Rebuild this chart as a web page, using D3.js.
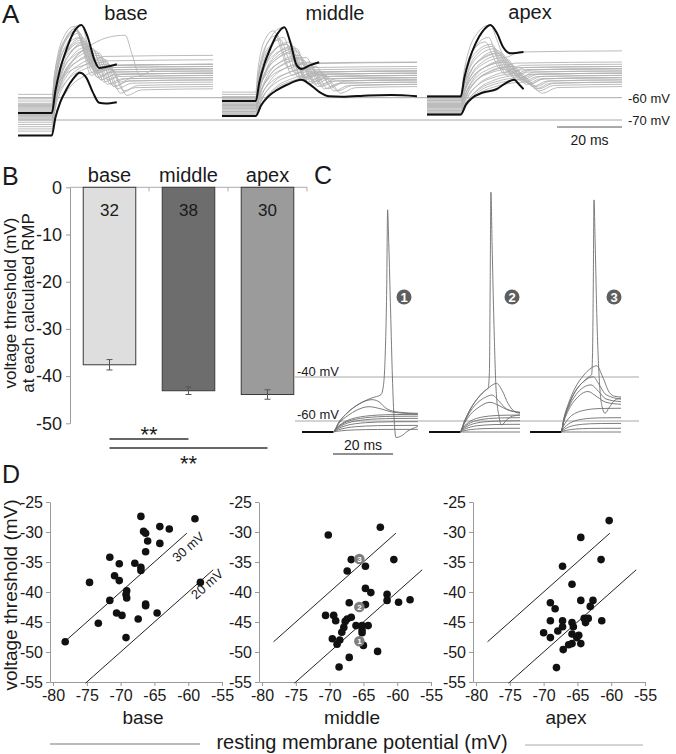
<!DOCTYPE html>
<html>
<head>
<meta charset="utf-8">
<script src="https://cdn.jsdelivr.net/npm/d3@7"></script>
<style>
  body { margin: 0; background: #fff; }
  svg { font-family: "Liberation Sans", Arial, Helvetica, sans-serif; display: block; }
</style>
</head>
<body>
<svg id="fig" width="676" height="754"></svg>
<script>
// ---------- DATA ----------
var regions = ['base', 'middle', 'apex'];

// A: gray traces, one entry per cell (RMP, hump peak, peak time, plateau), mV / ms
var baseRmp   = [-66.9, -58.5, -60.5, -61.5, -62.5, -63, -63.5, -64, -64.5, -65, -65.5, -66, -66.5, -67, -67.5, -68, -68.5, -69, -69.5, -70, -71, -72, -73, -74, -75];
var basePeakV = [-27.4, -44, -30, -36, -28, -41, -33, -38, -30, -45, -35, -32, -39, -29, -42, -36, -31, -40, -34, -43, -37, -33, -47, -38, -35];
var basePeakT = [19.5, 27, 18, 21, 17.5, 25, 19, 23, 18.5, 28, 20, 33, 24, 18, 26, 21, 19, 25, 20, 27, 22, 20, 29, 23, 21];
var basePlat  = [-45, -50, -43, -47, -41, -52, -45, -49, -46, -54, -48, -47, -51, -47, -53, -49, -45, -52, -48, -55, -50, -46, -56, -51, -49];

var midRmp   = [-61.5, -57.5, -58.5, -59.5, -60, -60.5, -61, -62, -62.5, -63, -63.5, -64, -64.5, -65, -65.5, -66, -66.5, -67, -67.5, -68, -68.5, -63.2, -64.8, -66.2];
var midPeakV = [-28.4, -30, -34, -38, -32, -42, -36, -45, -40, -33, -47, -39, -43, -35, -48, -41, -37, -44, -50, -46, -49, -38, -42, -36];
var midPeakT = [19.2, 16, 18, 21, 17, 24, 20, 26, 22, 19, 28, 23, 25, 21, 30, 24, 22, 27, 32, 29, 31, 23, 26, 20];
var midPlat  = [-44.2, -44, -46, -48, -47, -50, -49, -52, -51, -48, -53, -50, -52, -49, -54, -51, -50, -53, -55, -52, -54, -49, -51, -48];

var apexRmp   = [-59.5, -59, -60, -60.5, -61, -61.5, -62, -62.5, -63, -63.5, -64, -64.5, -65, -65.5, -66, -66.5, -67, -67.5, -68, -61.2, -62.8, -64.2, -65.8, -67.2];
var apexPeakV = [-27.4, -36, -40, -35, -44, -38, -42, -47, -37, -45, -41, -49, -39, -46, -43, -51, -48, -53, -50, -40, -44, -33, -46, -52];
var apexPeakT = [19.5, 20, 23, 18, 25, 21, 24, 27, 20, 26, 23, 29, 22, 27, 25, 30, 28, 31, 29, 22, 24, 19, 26, 30];
var apexPlat  = [-39, -45, -47, -44, -49, -46, -48, -51, -47, -50, -49, -52, -48, -51, -50, -53, -52, -55, -53, -47, -49, -46, -51, -54];

// A: highlighted (black) traces, [ms, mV]
var baseBlackHi = [[0, -66.9], [10.4, -66.9], [11.5, -57], [13, -47], [15, -38], [17, -31], [19.5, -27.4], [21.5, -33], [23.5, -43], [25, -46.7], [27, -46.2], [30.4, -45]];
var baseBlackLo = [[0, -77], [10.4, -77], [11.5, -69], [13, -62], [15, -56], [17, -51.5], [19, -48.8], [21, -51], [23, -57.5], [25, -62.3], [27, -62.6], [30.4, -62]];
var midBlackHi  = [[0, -61.5], [10.4, -61.5], [11.5, -53], [13, -45], [15, -37.5], [17, -31.5], [19.2, -28.4], [21, -35], [23, -45.5], [24.5, -47.1], [27, -45.5], [29.9, -44.1]];
var midBlackLo  = [[0, -68.2], [10.4, -68.2], [12, -63.5], [14.2, -59.5], [17, -56.5], [20, -54.2], [24.4, -52], [27, -54], [30, -57.5], [33, -59.4], [37, -59.6], [45, -59], [52, -58.8], [60, -59.3]];
var apexBlackHi = [[0, -59.5], [10.4, -59.5], [11.5, -51], [13, -43], [15, -35.5], [17, -30.5], [19.5, -27.4], [21.5, -31], [23.5, -37.5], [25.7, -40.1], [29.7, -39.5]];
var apexBlackLo = [[0, -67.5], [10.4, -67.5], [12, -63], [14, -60], [17, -57.8], [21.5, -56.1], [24.5, -53.2], [26.8, -52], [28.3, -54], [29.7, -56.2]];

// A: shape of the rising phase (fraction of time to peak -> fraction of amplitude)
var aOnset = 10.4, aEnd = 60;
var aRiseS = [0.1, 0.3, 0.55, 0.8, 1];
var aRiseF = [0.32, 0.68, 0.88, 0.98, 1];

// B: threshold relative to calculated RMP
var barMean = [-37.6, -43.1, -43.9];
var barSem  = [1.1, 0.8, 1.0];
var barN    = [32, 38, 30];
var barTicks = [0, -10, -20, -30, -40, -50];

// C: current-step families, [ms after step, mV]
var cRest = -65, cPre = -10.3;
var cRiseT = [0.8, 2, 3.5, 5.5, 8, 11, 15];
var cRiseF = [0.22, 0.45, 0.65, 0.8, 0.9, 0.96, 0.99];
var cSub1 = [-63.8, -62, -60.3, -58.8, -57.8, -57];
var cSub2 = [-65, -63.3, -61.5, -59.9, -58.5, -57.3];
var cSub3 = [-65, -63.3, -61.1, -58.5, -54.2];
var cHump1 = [
  [[0, -65], [2, -61], [5, -57.5], [8, -55], [12, -53.5], [16, -54.5], [20, -56], [28.3, -56.8]],
  [[0, -65], [2, -60.5], [5, -56], [9, -52], [13, -50.3], [15, -51], [18, -54.5], [22, -56], [28.3, -56.5]]
];
var cHump2 = [
  [[0, -65], [1.5, -61], [3.5, -57], [6, -54], [10, -51.5], [13, -53], [16, -55], [20, -56]],
  [[0, -65], [1.5, -60.5], [3.5, -55.5], [6, -51.5], [8.5, -49.2], [10.7, -48.2], [13, -51], [15.5, -54.5], [20, -56.2]],
  [[0, -65], [1.5, -60], [3.5, -54.5], [6, -49.5], [9, -45.5], [12.2, -42.9], [14, -46], [16, -52], [18, -55.5], [20, -56.5]]
];
var cHump3 = [
  [[0, -65], [1, -60], [2.5, -55], [5, -50], [9, -46.6], [12, -49], [15, -51.5], [20, -52.4]],
  [[0, -65], [1, -59.5], [2.5, -54], [5, -48], [10, -43.6], [12.5, -46.5], [15, -50], [20, -51.2]],
  [[0, -65], [1, -59], [2.5, -53], [4.7, -46.7], [7.4, -42.2], [10.8, -39.9], [12.5, -43], [15, -48], [20, -50.1]],
  [[0, -65], [1, -58.5], [2.5, -52], [4.7, -45], [7.4, -39.5], [10, -36], [11.9, -34.9], [13.9, -40], [16.1, -47], [18, -48.8], [20, -49.1]]
];
var cSpike1 = [[0, -65], [2, -60.5], [5, -56], [9, -52], [13, -49.5], [16, -48], [16.8, -44], [17.4, -30], [17.9, 0], [18.2, 36], [18.6, 20], [19.2, -10], [19.8, -40], [20.4, -60], [21, -67.5], [22.5, -67], [25, -64.5], [28.3, -62.5]];
var cSpike2 = [[0, -65], [1.5, -60], [3.5, -54.5], [6, -49.5], [8.5, -46], [9.4, -45], [9.8, -38], [10.05, 0], [10.3, 44], [10.7, 20], [11.3, -15], [12, -45], [13, -58], [13.9, -61.8], [15.5, -59.5], [17.5, -57.8], [20, -57.3]];
var cSpike3 = [[0, -65], [1, -59], [2.5, -53], [4.7, -46.7], [7.4, -42.2], [9.6, -39.6], [10.2, -39], [10.5, -30], [10.75, 0], [11, 40.5], [11.4, 20], [12, -15], [12.8, -42], [13.8, -54], [14.7, -56.5], [16, -54], [18, -50.5], [20, -49.6]];
var cEnd = [28.3, 20, 20];
var cStretch = [1.35, 1, 0.9];

// D: resting membrane potential (x) vs voltage threshold (y), mV
var baseScatter = [[-78.2, -48.3], [-74.6, -38.4], [-73.3, -45.2], [-71.6, -34.2], [-71.6, -41.4], [-70.9, -37.3], [-70.2, -35.3], [-70.2, -38.1], [-70.6, -43.5], [-69.8, -43.9], [-69.1, -39.8], [-69.2, -40.4], [-69.1, -41.0], [-69.2, -47.6], [-67.9, -35.2], [-67.4, -44.5], [-67.0, -27.4], [-67.0, -35.9], [-67.0, -36.4], [-66.6, -29.9], [-66.3, -30.2], [-66.3, -33.3], [-66.3, -42.0], [-66.3, -42.3], [-66.0, -31.5], [-64.6, -43.5], [-64.2, -29.1], [-64.2, -31.9], [-62.8, -29.5], [-59.0, -27.8], [-58.2, -38.4]];
var midScatter = [[-70.2, -30.5], [-62.5, -29.2], [-66.8, -34.6], [-67.4, -36.5], [-64.7, -35.7], [-60.5, -34.6], [-64.7, -39.4], [-63.9, -40.1], [-61.5, -40.4], [-61.5, -41.4], [-59.8, -41.7], [-58.1, -41.3], [-67.1, -41.8], [-64.7, -42.1], [-70.6, -43.9], [-69.4, -43.9], [-69.1, -44.8], [-67.7, -44.9], [-67.4, -44.5], [-66.8, -44.2], [-67.9, -45.9], [-68.2, -46.7], [-66.1, -45.6], [-65.2, -45.6], [-64.3, -45.6], [-65.2, -46.3], [-65.2, -46.8], [-69.6, -47.8], [-68.5, -48.0], [-68.9, -48.7], [-65.0, -48.9], [-62.9, -49.9], [-67.1, -50.9], [-68.6, -52.5]];
var midMarked = [[-65.6, -48.2, '1'], [-65.6, -42.5, '2'], [-65.6, -34.5, '3']];
var apexScatter = [[-60.3, -28.1], [-64.5, -30.9], [-61.5, -34.6], [-67.2, -35.7], [-65.8, -38.7], [-69.0, -41.8], [-68.3, -42.8], [-64.5, -41.4], [-62.7, -41.4], [-63.1, -42.4], [-69.0, -44.8], [-67.2, -44.8], [-65.8, -45.1], [-64.0, -44.4], [-63.4, -44.4], [-63.8, -45.1], [-61.4, -44.8], [-67.2, -45.8], [-65.6, -45.8], [-67.9, -46.5], [-70.0, -46.8], [-69.0, -47.6], [-65.8, -47.0], [-64.8, -47.2], [-65.1, -47.6], [-66.3, -48.8], [-65.8, -48.6], [-64.5, -48.6], [-67.1, -49.6], [-68.1, -52.6]];
var refOffsets = [30, 20];
var refRanges = [[-78.3, -60.2], [-75.2, -56.3]];
var dXTicks = [-80, -75, -70, -65, -60, -55];
var dYTicks = [-25, -30, -35, -40, -45, -50, -55];

// ---------- DRAWING ----------
var svg = d3.select('#fig');
var ink = '#1a1a1a';

function label(g, x, y, s, size, anchor) {
  return g.append('text').attr('x', x).attr('y', y).text(s)
    .attr('font-size', size).attr('text-anchor', anchor || 'start').attr('fill', ink);
}
function styleAxis(g, size) {
  g.attr('font-size', size).attr('font-family', null);
  g.select('.domain').attr('stroke', '#9a9a9a');
  g.selectAll('.tick line').attr('stroke', '#9a9a9a');
  g.selectAll('.tick text').attr('fill', ink);
}
function apPoints(rmp, pv, pt, pl) {
  var d = pt - aOnset, a = pv - rmp, dip = pl - 3;
  var pts = [[0, rmp], [aOnset, rmp]];
  aRiseS.forEach(function(s, k) { pts.push([aOnset + s * d, rmp + aRiseF[k] * a]); });
  pts.push([pt + 2, pv - 0.45 * (pv - dip)], [pt + 4.5, dip], [pt + 9, pl - 0.5], [aEnd, pl]);
  return pts;
}

// ===== A =====
var gA = svg.append('g');
var aX0 = [18, 222, 427];
var aT = d3.scaleLinear().domain([0, 60]).range([0, 195]);
var aV = d3.scaleLinear().domain([-70, -60]).range([120, 97.7]);
var aGray = [[baseRmp, basePeakV, basePeakT, basePlat], [midRmp, midPeakV, midPeakT, midPlat], [apexRmp, apexPeakV, apexPeakT, apexPlat]];
var aBlack = [[baseBlackHi, baseBlackLo], [midBlackHi, midBlackLo], [apexBlackHi, apexBlackLo]];

[-60, -70].forEach(function(v) {
  gA.append('line').attr('x1', 18).attr('x2', 622).attr('y1', aV(v)).attr('y2', aV(v))
    .attr('stroke', '#a8a8a8').attr('stroke-width', 1);
});
regions.forEach(function(r, gi) {
  var line = d3.line().curve(d3.curveMonotoneX)
    .x(function(d) { return aX0[gi] + aT(d[0]); })
    .y(function(d) { return aV(d[1]); });
  var cols = aGray[gi];
  var traces = cols[0].map(function(v, i) { return apPoints(v, cols[1][i], cols[2][i], cols[3][i]); });
  gA.selectAll(null).data(traces).enter().append('path')
    .attr('d', line).attr('fill', 'none').attr('stroke', '#b3b3b3').attr('stroke-width', 0.9);
  gA.selectAll(null).data(aBlack[gi]).enter().append('path')
    .attr('d', line).attr('fill', 'none').attr('stroke', '#111').attr('stroke-width', 2);
});
label(gA, 126, 20, 'base', 20, 'middle');
label(gA, 335, 20, 'middle', 20, 'middle');
label(gA, 530, 19, 'apex', 20, 'middle');
label(gA, 2, 23, 'A', 26);
label(gA, 628, 103, '-60 mV', 13);
label(gA, 628, 125, '-70 mV', 13);
gA.append('line').attr('x1', aX0[2] + aT(40)).attr('x2', aX0[2] + aT(60)).attr('y1', 127).attr('y2', 127)
  .attr('stroke', '#555').attr('stroke-width', 1);
label(gA, aX0[2] + aT(50), 145, '20 ms', 14, 'middle');

// ===== B =====
var gB = svg.append('g');
var xB = d3.scaleBand().domain(regions).range([70, 307]).paddingInner(0.335).paddingOuter(0.1675);
var yB = d3.scaleLinear().domain([-50, 0]).range([423.3, 187.3]);
var barFill = ['#dedede', '#6d6d6d', '#9b9b9b'];

gB.append('g').attr('transform', 'translate(70,0)')
  .call(d3.axisLeft(yB).tickValues(barTicks).tickSize(4).tickSizeOuter(0).tickPadding(4).tickFormat(String))
  .call(styleAxis, 18);
gB.append('line').attr('x1', 70).attr('x2', 307).attr('y1', yB(0)).attr('y2', yB(0)).attr('stroke', '#aaa');
regions.forEach(function(r) {
  var bx = xB(r) + xB.bandwidth() + xB.step() * xB.paddingInner() / 2;
  gB.append('line').attr('x1', bx).attr('x2', bx).attr('y1', yB(0)).attr('y2', yB(0) + 4).attr('stroke', '#aaa');
});
gB.selectAll('rect.bar').data(regions).enter().append('rect')
  .attr('class', 'bar')
  .attr('x', function(d) { return xB(d); })
  .attr('y', yB(0))
  .attr('width', xB.bandwidth())
  .attr('height', function(d, i) { return yB(barMean[i]) - yB(0); })
  .attr('fill', function(d, i) { return barFill[i]; })
  .attr('stroke', '#3a3a3a').attr('stroke-width', 1);
regions.forEach(function(r, i) {
  var cx = xB(r) + xB.bandwidth() / 2;
  var y1 = yB(barMean[i] - barSem[i]), y2 = yB(barMean[i] + barSem[i]);
  gB.append('line').attr('x1', cx).attr('x2', cx).attr('y1', y1).attr('y2', y2).attr('stroke', '#555');
  [y1, y2].forEach(function(yy) {
    gB.append('line').attr('x1', cx - 3).attr('x2', cx + 3).attr('y1', yy).attr('y2', yy).attr('stroke', '#555');
  });
  label(gB, cx, 216, String(barN[i]), 17, 'middle');
  label(gB, cx, 182, r, 20, 'middle');
});
var cB = function(r) { return xB(r) + xB.bandwidth() / 2; };
gB.append('line').attr('x1', cB('base')).attr('x2', cB('middle')).attr('y1', 439).attr('y2', 439).attr('stroke', '#333').attr('stroke-width', 1.3);
gB.append('line').attr('x1', cB('base')).attr('x2', cB('apex')).attr('y1', 448).attr('y2', 448).attr('stroke', '#333').attr('stroke-width', 1.3);
label(gB, (cB('base') + cB('middle')) / 2, 442, '**', 22, 'middle');
label(gB, (cB('base') + cB('apex')) / 2, 471, '**', 22, 'middle');
label(gB, 2, 185, 'B', 25);
var yTitleB = gB.append('text').attr('transform', 'translate(16,303) rotate(-90)')
  .attr('text-anchor', 'middle').attr('font-size', 17).attr('fill', ink);
yTitleB.append('tspan').attr('x', 0).attr('y', 0).text('voltage threshold (mV)');
yTitleB.append('tspan').attr('x', 0).attr('y', 18).text('at each calculated RMP');

// ===== C =====
var gC = svg.append('g');
var cOn = [333, 460, 561];
var cV = d3.scaleLinear().domain([-60, -40]).range([421, 377]);
var cT = function(t) { return t * 3; };
[-40, -60].forEach(function(v) {
  gC.append('line').attr('x1', 295).attr('x2', 639).attr('y1', cV(v)).attr('y2', cV(v))
    .attr('stroke', '#a8a8a8').attr('stroke-width', 1);
});
label(gC, 297, 376, '-40 mV', 13);
label(gC, 297, 419, '-60 mV', 13);
var cSubs = [cSub1, cSub2, cSub3], cHumps = [cHump1, cHump2, cHump3], cSpikes = [cSpike1, cSpike2, cSpike3];
function risePoints(ss, stretch, end) {
  var pts = [[cPre, cRest], [0, cRest]];
  cRiseT.forEach(function(t, k) { pts.push([t * stretch, cRest + cRiseF[k] * (ss - cRest)]); });
  pts.push([end, ss]);
  return pts;
}
[0, 1, 2].forEach(function(gi) {
  var line = d3.line().curve(d3.curveMonotoneX)
    .x(function(d) { return cOn[gi] + cT(d[0]); })
    .y(function(d) { return cV(d[1]); });
  var traces = cSubs[gi].map(function(ss) { return risePoints(ss, cStretch[gi], cEnd[gi]); });
  cHumps[gi].forEach(function(h) { traces.push([[cPre, cRest]].concat(h)); });
  traces.push([[cPre, cRest]].concat(cSpikes[gi]));
  gC.selectAll(null).data(traces).enter().append('path')
    .attr('d', line).attr('fill', 'none').attr('stroke', '#6e6e6e').attr('stroke-width', 0.9);
  gC.append('path').datum([[cPre, cRest], [0, cRest]]).attr('d', line)
    .attr('fill', 'none').attr('stroke', '#111').attr('stroke-width', 2);
});
var cMarkX = [404, 512, 614];
cMarkX.forEach(function(x, i) {
  gC.append('circle').attr('cx', x).attr('cy', 297).attr('r', 7.5).attr('fill', '#5e5e5e');
  gC.append('text').attr('x', x).attr('y', 302).attr('text-anchor', 'middle')
    .attr('font-size', 13).attr('font-weight', 'bold').attr('fill', '#fff').text(String(i + 1));
});
gC.append('line').attr('x1', cOn[0] + cT(0)).attr('x2', cOn[0] + cT(20)).attr('y1', 454).attr('y2', 454)
  .attr('stroke', '#222').attr('stroke-width', 1);
label(gC, cOn[0] + cT(10), 450, '20 ms', 14, 'middle');
label(gC, 314, 184, 'C', 25);

// ===== D =====
var gD = svg.append('g');
var dAx = [50, 259, 473];
var yD = d3.scaleLinear().domain([-55, -25]).range([682, 502]);
var dData = [baseScatter, midScatter, apexScatter];
regions.forEach(function(r, i) {
  var ax = dAx[i];
  var xD = d3.scaleLinear().domain([-80.45, -55]).range([ax, ax + 172]);
  var g = gD.append('g');
  g.append('g').attr('transform', 'translate(0,682)')
    .call(d3.axisBottom(xD).tickValues(dXTicks).tickSize(4).tickSizeOuter(0).tickPadding(4).tickFormat(String))
    .call(styleAxis, 16);
  g.append('g').attr('transform', 'translate(' + ax + ',0)')
    .call(d3.axisLeft(yD).tickValues(dYTicks).tickSize(4).tickSizeOuter(0).tickPadding(3).tickFormat(String))
    .call(styleAxis, 16);
  refOffsets.forEach(function(off, k) {
    var x1 = refRanges[k][0], x2 = refRanges[k][1];
    g.append('line').attr('x1', xD(x1)).attr('y1', yD(x1 + off)).attr('x2', xD(x2)).attr('y2', yD(x2 + off))
      .attr('stroke', '#222').attr('stroke-width', 1);
  });
  g.selectAll('circle.pt').data(dData[i]).enter().append('circle')
    .attr('class', 'pt')
    .attr('cx', function(d) { return xD(d[0]); })
    .attr('cy', function(d) { return yD(d[1]); })
    .attr('r', 3.8).attr('fill', '#111');
  if (r === 'middle') {
    midMarked.forEach(function(m) {
      g.append('circle').attr('cx', xD(m[0])).attr('cy', yD(m[1])).attr('r', 5.3).attr('fill', '#7d7d7d');
      g.append('text').attr('x', xD(m[0])).attr('y', yD(m[1]) + 3).attr('text-anchor', 'middle')
        .attr('font-size', 8).attr('font-weight', 'bold').attr('fill', '#fff').text(m[2]);
    });
  }
  if (r === 'base') {
    // labels run parallel to the identity-slope reference lines
    var ang = -Math.atan((yD(-55) - yD(-50)) / (xD(-55) - xD(-60))) * 180 / Math.PI;
    g.append('text').attr('transform', 'translate(' + xD(-60.0) + ',' + yD(-32.5) + ') rotate(' + ang + ')')
      .attr('text-anchor', 'middle').attr('dominant-baseline', 'central')
      .attr('font-size', 13).attr('fill', ink).text('30 mV');
    g.append('text').attr('transform', 'translate(' + xD(-57.2) + ',' + yD(-38.7) + ') rotate(' + ang + ')')
      .attr('text-anchor', 'middle').attr('dominant-baseline', 'central')
      .attr('font-size', 13).attr('fill', ink).text('20 mV');
  }
  label(g, ax + 93, 724, r, 19, 'middle');
});
gD.append('text').attr('transform', 'translate(17,595) rotate(-90)').attr('text-anchor', 'middle')
  .attr('font-size', 19).attr('fill', ink).text('voltage threshold (mV)');
label(gD, 362, 749, 'resting membrane potential (mV)', 20, 'middle');
gD.append('line').attr('x1', 50).attr('x2', 200).attr('y1', 744).attr('y2', 744).attr('stroke', '#777').attr('stroke-width', 1.2);
gD.append('line').attr('x1', 525).attr('x2', 643).attr('y1', 745).attr('y2', 745).attr('stroke', '#aaa').attr('stroke-width', 1.2);
label(gD, 2, 483, 'D', 25);
</script>
</body>
</html>
